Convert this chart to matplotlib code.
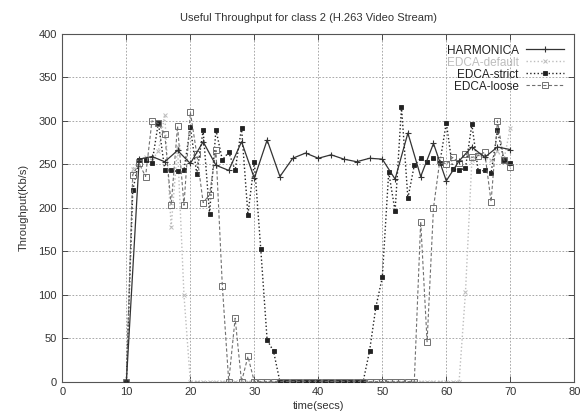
import numpy as np
import matplotlib
matplotlib.use("Agg")
import matplotlib.pyplot as plt

plt.rcParams['font.family'] = ['Liberation Sans', 'DejaVu Sans']

# HARMONICA is sampled every 2 s
harm_t = list(range(10, 71, 2))
harm_v = [0, 256, 259, 253, 266, 251, 276, 249, 243, 276, 234, 278, 236, 257, 263,
          257, 261, 256, 253, 257, 256, 233, 286, 236, 274, 231, 254, 270, 258, 270, 267]

# EDCA series are sampled every second
edca_t = list(range(10, 71))
default_v = ([0, 245, 255, 258, 255, 265, 307, 178, 270, 100]
             + [0] * 43
             + [103, 255, 262, 258, 255, 265, 255, 292])
strict_v = ([0, 220, 255, 255, 251, 298, 244, 243, 242, 243, 293, 239, 289, 193, 290,
             255, 264, 243, 292, 192, 253, 153, 48, 35]
            + [0] * 14
            + [35, 86, 120, 241, 196, 316, 211, 249, 257, 253, 257, 252, 298, 245, 243,
               246, 296, 242, 243, 240, 289, 255, 251])
loose_v = ([0, 238, 251, 236, 300, 297, 285, 203, 294, 203, 310, 262, 206, 215, 266,
            110, 0, 73, 0, 29]
           + [0] * 26
           + [184, 46, 200, 255, 250, 258, 252, 262, 258, 260, 264, 207, 300, 255, 247])

x_ticks = np.arange(0, 81, 10)
y_ticks = np.arange(0, 401, 50)

fig = plt.figure(figsize=(5.83, 4.19), dpi=100)
ax = fig.add_axes([0.107, 0.089, 0.878, 0.830])

ax.plot(harm_t, harm_v, color='#333333', linestyle='-', linewidth=0.9,
        marker='+', markersize=5, markeredgewidth=0.8, label='HARMONICA', zorder=4)
ax.plot(edca_t, default_v, color='#bdbdbd', linestyle=':', linewidth=1.0,
        marker='x', markersize=3.5, markeredgewidth=0.7, label='EDCA-default', zorder=2)
ax.plot(edca_t, strict_v, color='#222222', linestyle=':', linewidth=1.0,
        marker='s', markersize=3.2, markerfacecolor='#222222', markeredgewidth=0.6,
        label='EDCA-strict', zorder=3)
ax.plot(edca_t, loose_v, color='#707070', linestyle=(0, (3, 2)), linewidth=0.8,
        marker='s', markersize=4.5, markerfacecolor='none', markeredgewidth=0.7,
        label='EDCA-loose', zorder=3)

ax.set_xlim(0, 80)
ax.set_ylim(0, 400)
ax.set_xticks(x_ticks)
ax.set_yticks(y_ticks)
ax.tick_params(direction='in', length=4, width=0.6, labelsize=8, colors='#333333',
               top=True, right=True, pad=4)
ax.grid(True, color='#9a9a9a', linestyle=(0, (2, 2)), linewidth=0.6)
ax.set_axisbelow(True)
for side in ax.spines.values():
    side.set_color('#555555')
    side.set_linewidth(0.8)

ax.set_xlabel('time(secs)', fontsize=8, color='#333333', labelpad=3)
ax.set_ylabel('Throughput(Kb/s)', fontsize=8, color='#333333', labelpad=7)
fig.text(0.53, 0.958, 'Useful Throughput for class 2 (H.263 Video Stream)',
         ha='center', va='center', fontsize=8, color='#333333')

leg = ax.legend(loc='upper right', frameon=False, markerfirst=False, fontsize=8.5,
                handlelength=3.2, handletextpad=0.6, labelspacing=0.0,
                borderaxespad=0.5)
for txt, col in zip(leg.get_texts(), ['#222222', '#bdbdbd', '#222222', '#222222']):
    txt.set_color(col)
    txt.set_ha('right')
leg._legend_box.align = 'right'

fig.savefig('out.png', dpi=100)
